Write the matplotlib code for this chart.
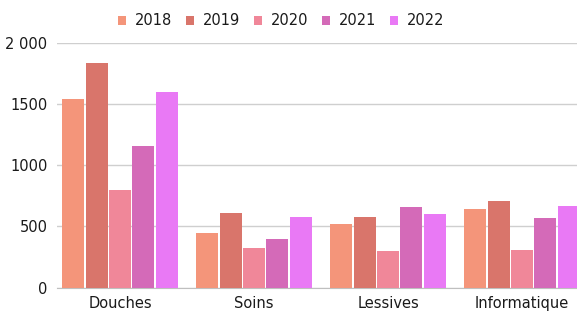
import numpy as np
import matplotlib.pyplot as plt

plt.rcParams['font.family'] = ['DejaVu Sans']

categories = ['Douches', 'Soins', 'Lessives', 'Informatique']
years = ['2018', '2019', '2020', '2021', '2022']
v2018 = [1540, 450, 520, 645]
v2019 = [1830, 610, 580, 705]
v2020 = [800, 320, 300, 310]
v2021 = [1160, 400, 660, 570]
v2022 = [1600, 580, 600, 670]
series = [v2018, v2019, v2020, v2021, v2022]
colors = ['#F4957A', '#D9756B', '#F08799', '#D46AB8', '#E979F5']

fig = plt.figure(figsize=(5.77, 3.13), dpi=100)
ax = fig.add_axes([0.099, 0.081, 0.901, 0.783])

x = np.arange(len(categories))
step = 0.174
width = 0.164
for i, (vals, col) in enumerate(zip(series, colors)):
    ax.bar(x + (i - 2) * step, vals, width, color=col, label=years[i], zorder=3)

ax.set_ylim(0, 2000)
ax.set_xlim(-0.47, 3.41)
ax.set_yticks([0, 500, 1000, 1500, 2000])
ax.set_yticklabels(['0', '500', '1000', '1500', '2 000'])
ax.set_xticks(x)
ax.set_xticklabels(categories)
ax.grid(axis='y', color='#cfcfcf', linewidth=1, zorder=0)
for s in ['top', 'right', 'left']:
    ax.spines[s].set_visible(False)
ax.spines['bottom'].set_color('#bfbfbf')
ax.tick_params(length=0, labelsize=10.5, colors='#1a1a1a')
ax.tick_params(axis='y', pad=7)
ax.tick_params(axis='x', pad=6)

fig.legend(loc='center', bbox_to_anchor=(0.487, 0.933), ncol=5, frameon=False,
           handlelength=0.55, handleheight=0.55, handletextpad=0.6, columnspacing=0.95,
           fontsize=10.5, labelcolor='#1a1a1a')

fig.savefig('out.png', dpi=100)
